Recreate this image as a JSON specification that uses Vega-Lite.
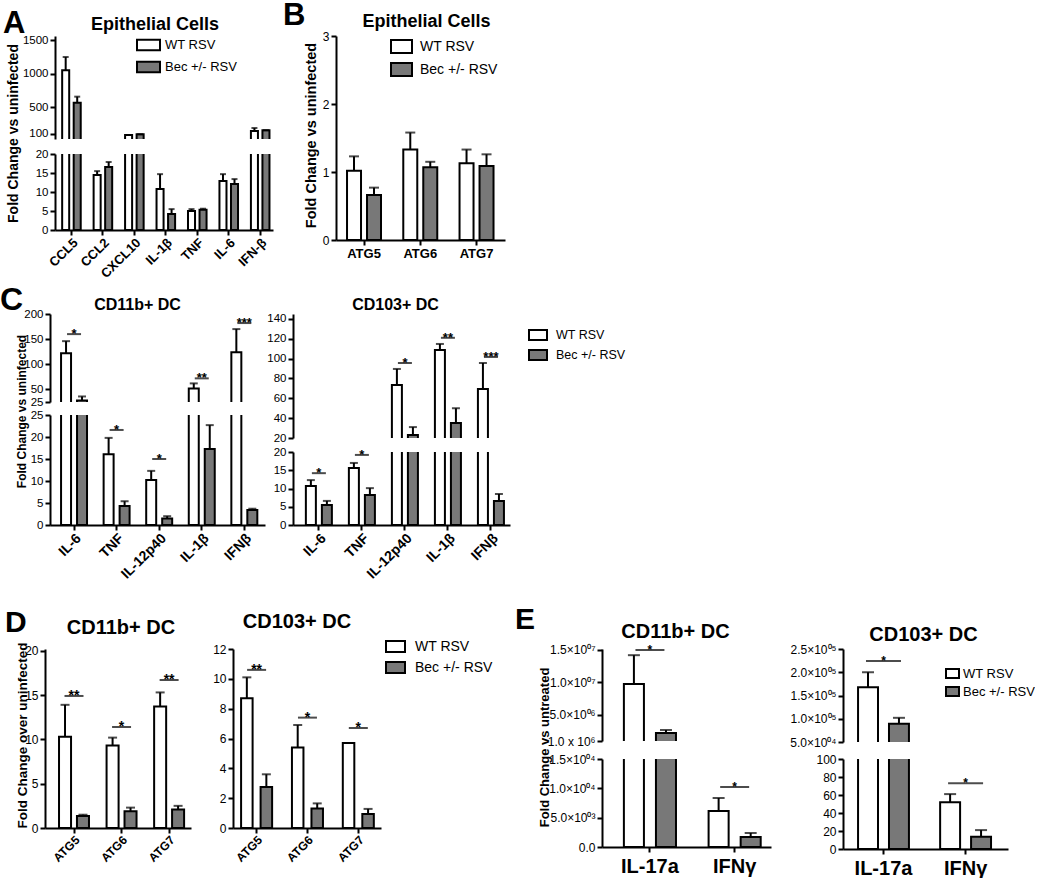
{
"$schema": "https://vega.github.io/schema/vega-lite/v6.json",
"background": "white",
"padding": 0,
"spacing": 0,
"bounds": "flush",
"resolve": {"scale": {"x": "independent", "y": "independent", "fill": "independent", "xOffset": "independent"}, "axis": {"x": "independent", "y": "independent"}, "legend": {"fill": "independent"}},
"config": {
  "font": "Liberation Sans",
  "view": {"stroke": null},
  "axis": {"domainColor": "#000", "domainWidth": 2, "tickColor": "#000", "tickWidth": 2, "tickSize": 5, "labelColor": "#000", "labelFont": "Liberation Sans", "labelFontSize": 12, "labelPadding": 2, "grid": false, "titleColor": "#000", "titleFont": "Liberation Sans", "titleFontWeight": "bold", "labelOverlap": false, "labelFlush": false},
  "title": {"font": "Liberation Sans", "fontWeight": "bold", "color": "#000"},
  "legend": {"orient": "none", "direction": "vertical", "symbolStrokeColor": "#000", "symbolStrokeWidth": 2, "labelFont": "Liberation Sans", "labelColor": "#000", "padding": 0}
},
"datasets": {
  "A": [
    {"gene":"CCL5","grp":"WT RSV","mean":1049,"hi":1247},
    {"gene":"CCL5","grp":"Bec +/- RSV","mean":566,"hi":656},
    {"gene":"CCL2","grp":"WT RSV","mean":14.5,"hi":15.5},
    {"gene":"CCL2","grp":"Bec +/- RSV","mean":16.6,"hi":17.9},
    {"gene":"CXCL10","grp":"WT RSV","mean":85,"hi":85},
    {"gene":"CXCL10","grp":"Bec +/- RSV","mean":95,"hi":95},
    {"gene":"IL-1β","grp":"WT RSV","mean":10.8,"hi":14.7},
    {"gene":"IL-1β","grp":"Bec +/- RSV","mean":4.2,"hi":5.5},
    {"gene":"TNF","grp":"WT RSV","mean":5.0,"hi":5.5},
    {"gene":"TNF","grp":"Bec +/- RSV","mean":5.3,"hi":5.6},
    {"gene":"IL-6","grp":"WT RSV","mean":12.9,"hi":14.7},
    {"gene":"IL-6","grp":"Bec +/- RSV","mean":12.1,"hi":13.4},
    {"gene":"IFN-β","grp":"WT RSV","mean":145,"hi":189},
    {"gene":"IFN-β","grp":"Bec +/- RSV","mean":155,"hi":155}
  ],
  "B": [
    {"gene":"ATG5","grp":"WT RSV","mean":1.02,"hi":1.23},
    {"gene":"ATG5","grp":"Bec +/- RSV","mean":0.66,"hi":0.77},
    {"gene":"ATG6","grp":"WT RSV","mean":1.33,"hi":1.58},
    {"gene":"ATG6","grp":"Bec +/- RSV","mean":1.07,"hi":1.15},
    {"gene":"ATG7","grp":"WT RSV","mean":1.13,"hi":1.33},
    {"gene":"ATG7","grp":"Bec +/- RSV","mean":1.09,"hi":1.26}
  ],
  "C1": [
    {"gene":"IL-6","grp":"WT RSV","mean":122,"hi":146},
    {"gene":"IL-6","grp":"Bec +/- RSV","mean":28,"hi":36},
    {"gene":"TNF","grp":"WT RSV","mean":16.1,"hi":19.8},
    {"gene":"TNF","grp":"Bec +/- RSV","mean":4.3,"hi":5.4},
    {"gene":"IL-12p40","grp":"WT RSV","mean":10.2,"hi":12.3},
    {"gene":"IL-12p40","grp":"Bec +/- RSV","mean":1.5,"hi":2.0},
    {"gene":"IL-1β","grp":"WT RSV","mean":52,"hi":62},
    {"gene":"IL-1β","grp":"Bec +/- RSV","mean":17.3,"hi":22.7},
    {"gene":"IFNβ","grp":"WT RSV","mean":124,"hi":170},
    {"gene":"IFNβ","grp":"Bec +/- RSV","mean":3.4,"hi":3.7}
  ],
  "C1s": [
    {"gene":"IL-6","s":160,"t":"*","part":"up"},
    {"gene":"TNF","s":21.6,"t":"*","part":"low"},
    {"gene":"IL-12p40","s":15,"t":"*","part":"low"},
    {"gene":"IL-1β","s":72,"t":"**","part":"up"},
    {"gene":"IFNβ","s":182,"t":"***","part":"up"}
  ],
  "C2": [
    {"gene":"IL-6","grp":"WT RSV","mean":10.7,"hi":12.3},
    {"gene":"IL-6","grp":"Bec +/- RSV","mean":5.5,"hi":6.6},
    {"gene":"TNF","grp":"WT RSV","mean":15.6,"hi":17},
    {"gene":"TNF","grp":"Bec +/- RSV","mean":8.2,"hi":10.1},
    {"gene":"IL-12p40","grp":"WT RSV","mean":73.5,"hi":89.6},
    {"gene":"IL-12p40","grp":"Bec +/- RSV","mean":23,"hi":31},
    {"gene":"IL-1β","grp":"WT RSV","mean":108.7,"hi":114.8},
    {"gene":"IL-1β","grp":"Bec +/- RSV","mean":35,"hi":50},
    {"gene":"IFNβ","grp":"WT RSV","mean":69.4,"hi":95.6},
    {"gene":"IFNβ","grp":"Bec +/- RSV","mean":6.6,"hi":8.5}
  ],
  "C2s": [
    {"gene":"IL-6","s":14.2,"t":"*","part":"low"},
    {"gene":"TNF","s":19.2,"t":"*","part":"low"},
    {"gene":"IL-12p40","s":95.6,"t":"*","part":"up"},
    {"gene":"IL-1β","s":121,"t":"**","part":"up"},
    {"gene":"IFNβ","s":101.7,"t":"***","part":"up"}
  ],
  "D1": [
    {"gene":"ATG5","grp":"WT RSV","mean":10.3,"hi":13.9},
    {"gene":"ATG5","grp":"Bec +/- RSV","mean":1.36,"hi":1.5},
    {"gene":"ATG6","grp":"WT RSV","mean":9.3,"hi":10.2},
    {"gene":"ATG6","grp":"Bec +/- RSV","mean":1.9,"hi":2.3},
    {"gene":"ATG7","grp":"WT RSV","mean":13.7,"hi":15.3},
    {"gene":"ATG7","grp":"Bec +/- RSV","mean":2.1,"hi":2.5}
  ],
  "D1s": [
    {"gene":"ATG5","s":14.9,"t":"**"},
    {"gene":"ATG6","s":11.4,"t":"*"},
    {"gene":"ATG7","s":16.7,"t":"**"}
  ],
  "D2": [
    {"gene":"ATG5","grp":"WT RSV","mean":8.7,"hi":10.1},
    {"gene":"ATG5","grp":"Bec +/- RSV","mean":2.75,"hi":3.6},
    {"gene":"ATG6","grp":"WT RSV","mean":5.4,"hi":6.9},
    {"gene":"ATG6","grp":"Bec +/- RSV","mean":1.3,"hi":1.65},
    {"gene":"ATG7","grp":"WT RSV","mean":5.7,"hi":5.7},
    {"gene":"ATG7","grp":"Bec +/- RSV","mean":0.94,"hi":1.28}
  ],
  "D2s": [
    {"gene":"ATG5","s":10.6,"t":"**"},
    {"gene":"ATG6","s":7.4,"t":"*"},
    {"gene":"ATG7","s":6.7,"t":"*"}
  ],
  "E1": [
    {"gene":"IL-17a","grp":"WT RSV","mean":9770000,"hi":14200000},
    {"gene":"IL-17a","grp":"Bec +/- RSV","mean":2230000,"hi":2690000},
    {"gene":"IFNγ","grp":"WT RSV","mean":6140,"hi":8350},
    {"gene":"IFNγ","grp":"Bec +/- RSV","mean":1700,"hi":2390}
  ],
  "E1s": [
    {"gene":"IL-17a","s":15000000,"t":"*","part":"up"},
    {"gene":"IFNγ","s":10230,"t":"*","part":"low"}
  ],
  "E2": [
    {"gene":"IL-17a","grp":"WT RSV","mean":168000,"hi":200000},
    {"gene":"IL-17a","grp":"Bec +/- RSV","mean":89000,"hi":102000},
    {"gene":"IFNγ","grp":"WT RSV","mean":52,"hi":61},
    {"gene":"IFNγ","grp":"Bec +/- RSV","mean":13.5,"hi":21}
  ],
  "E2s": [
    {"gene":"IL-17a","s":224000,"t":"*","part":"up"},
    {"gene":"IFNγ","s":73,"t":"*","part":"low"}
  ]
},
"vconcat": [
  {
    "spacing": 0, "bounds": "flush",
    "resolve": {"scale": {"x": "independent", "y": "independent", "fill": "independent", "xOffset": "independent"}, "axis": {"x": "independent", "y": "independent"}, "legend": {"fill": "independent"}},
    "hconcat": [
      {"width": 10, "height": 1, "data": {"values": []}, "mark": "point", "encoding": {}},
      {
        "title": {"text": "A", "fontSize": 31, "anchor": "start", "frame": "group", "dx": -52, "dy": 24, "offset": 0},
        "spacing": 15, "bounds": "flush",
        "resolve": {"scale": {"x": "independent", "y": "independent", "fill": "independent", "xOffset": "independent"}, "axis": {"x": "independent", "y": "independent"}, "legend": {"fill": "independent"}},
        "vconcat": [
          {
            "width": 218, "height": 103, "data": {"name": "A"},
            "transform": [{"filter": "datum.mean > 25"}],
            "title": {"text": "Epithelial Cells", "fontSize": 18, "offset": -1, "dx": -9},
            "encoding": {
              "x": {"field": "gene", "type": "nominal", "scale": {"domain": ["CCL5","CCL2","CXCL10","IL-1β","TNF","IL-6","IFN-β"], "paddingInner": 0.41, "paddingOuter": 0.17, "align": 0.67}, "axis": null},
              "y": {"field": "mean", "type": "quantitative", "scale": {"domain": [25, 1560], "nice": false, "zero": false}, "axis": {"title": null, "values": [100, 500, 1000, 1500], "format": "d", "labelFontSize": 11.5}}
            },
            "layer": [
              {"mark": {"type": "bar", "stroke": "#000", "strokeWidth": 2, "clip": true},
               "encoding": {"xOffset": {"field": "grp", "type": "nominal", "scale": {"domain": ["WT RSV", "Bec +/- RSV"], "paddingInner": 0.39, "paddingOuter": 0}}, "y2": {"datum": 0},
                 "fill": {"field": "grp", "type": "nominal", "scale": {"domain": ["WT RSV", "Bec +/- RSV"], "range": ["#ffffff", "#787878"]},
                   "legend": {"title": null, "legendX": 81, "legendY": -3.5, "symbolType": "M-1,-0.45H1V0.45H-1Z", "symbolSize": 529, "labelFontSize": 13, "labelOffset": 4, "rowPadding": -4}}}},
              {"mark": {"type": "rule", "color": "#000", "strokeWidth": 2, "clip": true},
               "encoding": {"xOffset": {"field": "grp", "type": "nominal", "scale": {"domain": ["WT RSV", "Bec +/- RSV"], "paddingInner": 0.39, "paddingOuter": 0}}, "y2": {"field": "hi"}}},
              {"mark": {"type": "tick", "color": "#000", "thickness": 2, "size": 6, "clip": true},
               "encoding": {"xOffset": {"field": "grp", "type": "nominal", "scale": {"domain": ["WT RSV", "Bec +/- RSV"], "paddingInner": 0.39, "paddingOuter": 0}}, "y": {"field": "hi", "type": "quantitative"}}}
            ]
          },
          {
            "width": 218, "height": 76, "data": {"name": "A"},
            "encoding": {
              "x": {"field": "gene", "type": "nominal", "scale": {"domain": ["CCL5","CCL2","CXCL10","IL-1β","TNF","IL-6","IFN-β"], "paddingInner": 0.41, "paddingOuter": 0.17, "align": 0.67}, "axis": {"title": null, "labelAngle": -45, "labelAlign": "right", "labelBaseline": "top", "labelFontSize": 13, "labelFontWeight": "bold", "labelPadding": 1}},
              "y": {"field": "mean", "type": "quantitative", "scale": {"domain": [0, 20], "nice": false, "zero": false}, "axis": {"values": [0, 5, 10, 15, 20], "labelFontSize": 11.5, "title": "Fold Change vs uninfected", "titleFontSize": 14, "titleAngle": -90, "titleBaseline": "bottom", "titleAlign": "center", "titleX": -35, "titleY": -21}}
            },
            "layer": [
              {"mark": {"type": "bar", "stroke": "#000", "strokeWidth": 2, "clip": true},
               "encoding": {"xOffset": {"field": "grp", "type": "nominal", "scale": {"domain": ["WT RSV", "Bec +/- RSV"], "paddingInner": 0.39, "paddingOuter": 0}}, "y2": {"datum": 0},
                 "fill": {"field": "grp", "type": "nominal", "scale": {"domain": ["WT RSV", "Bec +/- RSV"], "range": ["#ffffff", "#787878"]}, "legend": null}}},
              {"mark": {"type": "rule", "color": "#000", "strokeWidth": 2, "clip": true},
               "encoding": {"xOffset": {"field": "grp", "type": "nominal", "scale": {"domain": ["WT RSV", "Bec +/- RSV"], "paddingInner": 0.39, "paddingOuter": 0}}, "y2": {"field": "hi"}}},
              {"mark": {"type": "tick", "color": "#000", "thickness": 2, "size": 6, "clip": true},
               "encoding": {"xOffset": {"field": "grp", "type": "nominal", "scale": {"domain": ["WT RSV", "Bec +/- RSV"], "paddingInner": 0.39, "paddingOuter": 0}}, "y": {"field": "hi", "type": "quantitative"}}}
            ]
          }
        ]
      },
      {"width": 281, "height": 1, "data": {"values": []}, "mark": "point", "encoding": {}},
      {
        "title": {"text": "B", "fontSize": 31, "anchor": "start", "frame": "group", "dx": -53, "dy": 19, "offset": 0},
        "bounds": "flush",
        "resolve": {"scale": {"x": "independent", "y": "independent", "fill": "independent", "xOffset": "independent"}, "axis": {"x": "independent", "y": "independent"}, "legend": {"fill": "independent"}},
        "vconcat": [
          {
            "width": 169, "height": 204, "data": {"name": "B"},
            "title": {"text": "Epithelial Cells", "fontSize": 18, "offset": -1, "dx": 6},
            "encoding": {
              "x": {"field": "gene", "type": "nominal", "scale": {"domain": ["ATG5","ATG6","ATG7"], "paddingInner": 0.396, "paddingOuter": 0.2, "align": 0.49}, "axis": {"title": null, "labelAngle": 0, "labelFontSize": 13, "labelFontWeight": "bold", "labelBaseline": "top", "labelPadding": 2}},
              "y": {"field": "mean", "type": "quantitative", "scale": {"domain": [0, 3], "nice": false}, "axis": {"values": [0, 1, 2, 3], "labelFontSize": 12, "title": "Fold Change vs uninfected", "titleFontSize": 14.5, "titleAngle": -90, "titleBaseline": "bottom", "titleAlign": "center", "titleX": -18, "titleY": 99}}
            },
            "layer": [
              {"mark": {"type": "bar", "stroke": "#000", "strokeWidth": 2, "clip": true},
               "encoding": {"xOffset": {"field": "grp", "type": "nominal", "scale": {"domain": ["WT RSV", "Bec +/- RSV"], "paddingInner": 0.3, "paddingOuter": 0}}, "y2": {"datum": 0},
                 "fill": {"field": "grp", "type": "nominal", "scale": {"domain": ["WT RSV", "Bec +/- RSV"], "range": ["#ffffff", "#787878"]},
                   "legend": {"title": null, "legendX": 54, "legendY": -1, "symbolType": "M-1,-0.62H1V0.62H-1Z", "symbolSize": 441, "labelFontSize": 14, "labelOffset": 7, "rowPadding": 0}}}},
              {"mark": {"type": "rule", "color": "#000", "strokeWidth": 2, "clip": true},
               "encoding": {"xOffset": {"field": "grp", "type": "nominal", "scale": {"domain": ["WT RSV", "Bec +/- RSV"], "paddingInner": 0.3, "paddingOuter": 0}}, "y2": {"field": "hi"}}},
              {"mark": {"type": "tick", "color": "#000", "thickness": 2, "size": 10, "clip": true},
               "encoding": {"xOffset": {"field": "grp", "type": "nominal", "scale": {"domain": ["WT RSV", "Bec +/- RSV"], "paddingInner": 0.3, "paddingOuter": 0}}, "y": {"field": "hi", "type": "quantitative"}}}
            ]
          }
        ]
      }
    ]
  },
  {"width": 1, "height": 278, "data": {"values": []}, "mark": "point", "encoding": {}},
  {
    "spacing": 0, "bounds": "flush",
    "resolve": {"scale": {"x": "independent", "y": "independent", "fill": "independent", "xOffset": "independent"}, "axis": {"x": "independent", "y": "independent"}, "legend": {"fill": "independent"}},
    "hconcat": [
      {"width": 5, "height": 1, "data": {"values": []}, "mark": "point", "encoding": {}},
      {
        "title": {"text": "C", "fontSize": 32, "anchor": "start", "frame": "group", "dx": -50, "dy": 20, "offset": 0},
        "spacing": 13, "bounds": "flush",
        "resolve": {"scale": {"x": "independent", "y": "independent", "fill": "independent", "xOffset": "independent"}, "axis": {"x": "independent", "y": "independent"}, "legend": {"fill": "independent"}},
        "vconcat": [
          {
            "width": 215, "height": 88, "data": {"name": "C1"},
            "title": {"text": "CD11b+ DC", "fontSize": 16, "offset": -5, "dx": -20},
            "encoding": {
              "x": {"field": "gene", "type": "nominal", "scale": {"domain": ["IL-6","TNF","IL-12p40","IL-1β","IFNβ"], "paddingInner": 0.39, "paddingOuter": 0.22, "align": 0.59}, "axis": null},
              "y": {"field": "mean", "type": "quantitative", "scale": {"domain": [25, 200], "nice": false, "zero": false}, "axis": {"title": null, "values": [25, 50, 100, 150, 200], "labelFontSize": 11.5}}
            },
            "layer": [
              {"mark": {"type": "bar", "stroke": "#000", "strokeWidth": 2, "clip": true},
               "encoding": {"xOffset": {"field": "grp", "type": "nominal", "scale": {"domain": ["WT RSV", "Bec +/- RSV"], "paddingInner": 0.375, "paddingOuter": 0}}, "y2": {"datum": 0},
                 "fill": {"field": "grp", "type": "nominal", "scale": {"domain": ["WT RSV", "Bec +/- RSV"], "range": ["#ffffff", "#787878"]}, "legend": null}}},
              {"mark": {"type": "rule", "color": "#000", "strokeWidth": 2, "clip": true},
               "encoding": {"xOffset": {"field": "grp", "type": "nominal", "scale": {"domain": ["WT RSV", "Bec +/- RSV"], "paddingInner": 0.375, "paddingOuter": 0}}, "y2": {"field": "hi"}}},
              {"mark": {"type": "tick", "color": "#000", "thickness": 2, "size": 8, "clip": true},
               "encoding": {"xOffset": {"field": "grp", "type": "nominal", "scale": {"domain": ["WT RSV", "Bec +/- RSV"], "paddingInner": 0.375, "paddingOuter": 0}}, "y": {"field": "hi", "type": "quantitative"}}},
              {"data": {"name": "C1s"}, "transform": [{"filter": "datum.part == 'up'"}],
               "mark": {"type": "tick", "color": "#000", "thickness": 2, "size": 14},
               "encoding": {"y": {"field": "s", "type": "quantitative"}}},
              {"data": {"name": "C1s"}, "transform": [{"filter": "datum.part == 'up'"}],
               "mark": {"type": "text", "fontSize": 13, "fontWeight": "bold", "baseline": "alphabetic", "dy": 4, "color": "#000"},
               "encoding": {"y": {"field": "s", "type": "quantitative"}, "text": {"field": "t"}}}
            ]
          },
          {
            "width": 215, "height": 110, "data": {"name": "C1"},
            "encoding": {
              "x": {"field": "gene", "type": "nominal", "scale": {"domain": ["IL-6","TNF","IL-12p40","IL-1β","IFNβ"], "paddingInner": 0.39, "paddingOuter": 0.22, "align": 0.59}, "axis": {"title": null, "labelAngle": -45, "labelAlign": "right", "labelBaseline": "top", "labelFontSize": 14, "labelFontWeight": "bold", "labelPadding": 1}},
              "y": {"field": "mean", "type": "quantitative", "scale": {"domain": [0, 25], "nice": false, "zero": false}, "axis": {"values": [0, 5, 10, 15, 20, 25], "labelFontSize": 11.5, "title": "Fold Change vs uninfected", "titleFontSize": 12, "titleAngle": -90, "titleBaseline": "bottom", "titleAlign": "center", "titleX": -22, "titleY": -4}}
            },
            "layer": [
              {"mark": {"type": "bar", "stroke": "#000", "strokeWidth": 2, "clip": true},
               "encoding": {"xOffset": {"field": "grp", "type": "nominal", "scale": {"domain": ["WT RSV", "Bec +/- RSV"], "paddingInner": 0.375, "paddingOuter": 0}}, "y2": {"datum": 0},
                 "fill": {"field": "grp", "type": "nominal", "scale": {"domain": ["WT RSV", "Bec +/- RSV"], "range": ["#ffffff", "#787878"]}, "legend": null}}},
              {"mark": {"type": "rule", "color": "#000", "strokeWidth": 2, "clip": true},
               "encoding": {"xOffset": {"field": "grp", "type": "nominal", "scale": {"domain": ["WT RSV", "Bec +/- RSV"], "paddingInner": 0.375, "paddingOuter": 0}}, "y2": {"field": "hi"}}},
              {"mark": {"type": "tick", "color": "#000", "thickness": 2, "size": 8, "clip": true},
               "encoding": {"xOffset": {"field": "grp", "type": "nominal", "scale": {"domain": ["WT RSV", "Bec +/- RSV"], "paddingInner": 0.375, "paddingOuter": 0}}, "y": {"field": "hi", "type": "quantitative"}}},
              {"data": {"name": "C1s"}, "transform": [{"filter": "datum.part == 'low'"}],
               "mark": {"type": "tick", "color": "#000", "thickness": 2, "size": 14},
               "encoding": {"y": {"field": "s", "type": "quantitative"}}},
              {"data": {"name": "C1s"}, "transform": [{"filter": "datum.part == 'low'"}],
               "mark": {"type": "text", "fontSize": 13, "fontWeight": "bold", "baseline": "alphabetic", "dy": 4, "color": "#000"},
               "encoding": {"y": {"field": "s", "type": "quantitative"}, "text": {"field": "t"}}}
            ]
          }
        ]
      },
      {"width": 243, "height": 1, "data": {"values": []}, "mark": "point", "encoding": {}},
      {
        "spacing": 14, "bounds": "flush",
        "resolve": {"scale": {"x": "independent", "y": "independent", "fill": "independent", "xOffset": "independent"}, "axis": {"x": "independent", "y": "independent"}, "legend": {"fill": "independent"}},
        "vconcat": [
          {
            "width": 217, "height": 124, "data": {"name": "C2"},
            "title": {"text": "CD103+ DC", "fontSize": 16, "offset": 0, "dx": -6},
            "encoding": {
              "x": {"field": "gene", "type": "nominal", "scale": {"domain": ["IL-6","TNF","IL-12p40","IL-1β","IFNβ"], "paddingInner": 0.395, "paddingOuter": 0.22, "align": 0.68}, "axis": null},
              "y": {"field": "mean", "type": "quantitative", "scale": {"domain": [20, 145], "nice": false, "zero": false}, "axis": {"title": null, "values": [20, 40, 60, 80, 100, 120, 140], "labelFontSize": 11.5}}
            },
            "layer": [
              {"mark": {"type": "bar", "stroke": "#000", "strokeWidth": 2, "clip": true},
               "encoding": {"xOffset": {"field": "grp", "type": "nominal", "scale": {"domain": ["WT RSV", "Bec +/- RSV"], "paddingInner": 0.375, "paddingOuter": 0}}, "y2": {"datum": 0},
                 "fill": {"field": "grp", "type": "nominal", "scale": {"domain": ["WT RSV", "Bec +/- RSV"], "range": ["#ffffff", "#787878"]},
                   "legend": {"title": null, "legendX": 235, "legendY": 11, "symbolType": "M-1,-0.556H1V0.556H-1Z", "symbolSize": 324, "labelFontSize": 12.5, "labelOffset": 8, "rowPadding": -1}}}},
              {"mark": {"type": "rule", "color": "#000", "strokeWidth": 2, "clip": true},
               "encoding": {"xOffset": {"field": "grp", "type": "nominal", "scale": {"domain": ["WT RSV", "Bec +/- RSV"], "paddingInner": 0.375, "paddingOuter": 0}}, "y2": {"field": "hi"}}},
              {"mark": {"type": "tick", "color": "#000", "thickness": 2, "size": 8, "clip": true},
               "encoding": {"xOffset": {"field": "grp", "type": "nominal", "scale": {"domain": ["WT RSV", "Bec +/- RSV"], "paddingInner": 0.375, "paddingOuter": 0}}, "y": {"field": "hi", "type": "quantitative"}}},
              {"data": {"name": "C2s"}, "transform": [{"filter": "datum.part == 'up'"}],
               "mark": {"type": "tick", "color": "#000", "thickness": 2, "size": 14},
               "encoding": {"y": {"field": "s", "type": "quantitative"}}},
              {"data": {"name": "C2s"}, "transform": [{"filter": "datum.part == 'up'"}],
               "mark": {"type": "text", "fontSize": 13, "fontWeight": "bold", "baseline": "alphabetic", "dy": 4, "color": "#000"},
               "encoding": {"y": {"field": "s", "type": "quantitative"}, "text": {"field": "t"}}}
            ]
          },
          {
            "width": 217, "height": 73, "data": {"name": "C2"},
            "encoding": {
              "x": {"field": "gene", "type": "nominal", "scale": {"domain": ["IL-6","TNF","IL-12p40","IL-1β","IFNβ"], "paddingInner": 0.395, "paddingOuter": 0.22, "align": 0.68}, "axis": {"title": null, "labelAngle": -45, "labelAlign": "right", "labelBaseline": "top", "labelFontSize": 14, "labelFontWeight": "bold", "labelPadding": 1}},
              "y": {"field": "mean", "type": "quantitative", "scale": {"domain": [0, 20], "nice": false, "zero": false}, "axis": {"title": null, "values": [0, 5, 10, 15, 20], "labelFontSize": 11.5}}
            },
            "layer": [
              {"mark": {"type": "bar", "stroke": "#000", "strokeWidth": 2, "clip": true},
               "encoding": {"xOffset": {"field": "grp", "type": "nominal", "scale": {"domain": ["WT RSV", "Bec +/- RSV"], "paddingInner": 0.375, "paddingOuter": 0}}, "y2": {"datum": 0},
                 "fill": {"field": "grp", "type": "nominal", "scale": {"domain": ["WT RSV", "Bec +/- RSV"], "range": ["#ffffff", "#787878"]}, "legend": null}}},
              {"mark": {"type": "rule", "color": "#000", "strokeWidth": 2, "clip": true},
               "encoding": {"xOffset": {"field": "grp", "type": "nominal", "scale": {"domain": ["WT RSV", "Bec +/- RSV"], "paddingInner": 0.375, "paddingOuter": 0}}, "y2": {"field": "hi"}}},
              {"mark": {"type": "tick", "color": "#000", "thickness": 2, "size": 8, "clip": true},
               "encoding": {"xOffset": {"field": "grp", "type": "nominal", "scale": {"domain": ["WT RSV", "Bec +/- RSV"], "paddingInner": 0.375, "paddingOuter": 0}}, "y": {"field": "hi", "type": "quantitative"}}},
              {"data": {"name": "C2s"}, "transform": [{"filter": "datum.part == 'low'"}],
               "mark": {"type": "tick", "color": "#000", "thickness": 2, "size": 14},
               "encoding": {"y": {"field": "s", "type": "quantitative"}}},
              {"data": {"name": "C2s"}, "transform": [{"filter": "datum.part == 'low'"}],
               "mark": {"type": "text", "fontSize": 13, "fontWeight": "bold", "baseline": "alphabetic", "dy": 4, "color": "#000"},
               "encoding": {"y": {"field": "s", "type": "quantitative"}, "text": {"field": "t"}}}
            ]
          }
        ]
      }
    ]
  },
  {"width": 1, "height": 335, "data": {"values": []}, "mark": "point", "encoding": {}},
  {
    "spacing": 0, "bounds": "flush",
    "resolve": {"scale": {"x": "independent", "y": "independent", "fill": "independent", "xOffset": "independent"}, "axis": {"x": "independent", "y": "independent"}, "legend": {"fill": "independent"}},
    "hconcat": [
      {
        "title": {"text": "D", "fontSize": 30, "anchor": "start", "frame": "group", "dx": -40, "dy": 20, "offset": 0},
        "bounds": "flush",
        "resolve": {"scale": {"x": "independent", "y": "independent", "fill": "independent", "xOffset": "independent"}, "axis": {"x": "independent", "y": "independent"}, "legend": {"fill": "independent"}},
        "vconcat": [
          {
            "width": 146, "height": 179, "data": {"name": "D1"},
            "title": {"text": "CD11b+ DC", "fontSize": 20, "offset": 4, "dx": 3},
            "encoding": {
              "x": {"field": "gene", "type": "nominal", "scale": {"domain": ["ATG5","ATG6","ATG7"], "paddingInner": 0.37, "paddingOuter": 0.22, "align": 0.67}, "axis": {"title": null, "labelAngle": -45, "labelAlign": "right", "labelBaseline": "top", "labelFontSize": 12, "labelFontWeight": "bold", "labelPadding": 1}},
              "y": {"field": "mean", "type": "quantitative", "scale": {"domain": [0, 20.2], "nice": false, "zero": false}, "axis": {"values": [0, 5, 10, 15, 20], "labelFontSize": 12, "title": "Fold Change over uninfected", "titleFontSize": 13.5, "titleAngle": -90, "titleBaseline": "bottom", "titleAlign": "center", "titleX": -16, "titleY": 86}}
            },
            "layer": [
              {"mark": {"type": "bar", "stroke": "#000", "strokeWidth": 2, "clip": true},
               "encoding": {"xOffset": {"field": "grp", "type": "nominal", "scale": {"domain": ["WT RSV", "Bec +/- RSV"], "paddingInner": 0.33, "paddingOuter": 0}}, "y2": {"datum": 0},
                 "fill": {"field": "grp", "type": "nominal", "scale": {"domain": ["WT RSV", "Bec +/- RSV"], "range": ["#ffffff", "#787878"]}, "legend": null}}},
              {"mark": {"type": "rule", "color": "#000", "strokeWidth": 2, "clip": true},
               "encoding": {"xOffset": {"field": "grp", "type": "nominal", "scale": {"domain": ["WT RSV", "Bec +/- RSV"], "paddingInner": 0.33, "paddingOuter": 0}}, "y2": {"field": "hi"}}},
              {"mark": {"type": "tick", "color": "#000", "thickness": 2, "size": 9, "clip": true},
               "encoding": {"xOffset": {"field": "grp", "type": "nominal", "scale": {"domain": ["WT RSV", "Bec +/- RSV"], "paddingInner": 0.33, "paddingOuter": 0}}, "y": {"field": "hi", "type": "quantitative"}}},
              {"data": {"name": "D1s"},
               "mark": {"type": "tick", "color": "#000", "thickness": 2, "size": 19},
               "encoding": {"y": {"field": "s", "type": "quantitative"}}},
              {"data": {"name": "D1s"},
               "mark": {"type": "text", "fontSize": 14, "fontWeight": "bold", "baseline": "alphabetic", "dy": 4, "color": "#000"},
               "encoding": {"y": {"field": "s", "type": "quantitative"}, "text": {"field": "t"}}}
            ]
          }
        ]
      },
      {"width": 188, "height": 1, "data": {"values": []}, "mark": "point", "encoding": {}},
      {
        "bounds": "flush",
        "resolve": {"scale": {"x": "independent", "y": "independent", "fill": "independent", "xOffset": "independent"}, "axis": {"x": "independent", "y": "independent"}, "legend": {"fill": "independent"}},
        "vconcat": [
          {
            "width": 148, "height": 179, "data": {"name": "D2"},
            "title": {"text": "CD103+ DC", "fontSize": 20, "offset": 4, "dx": -10},
            "encoding": {
              "x": {"field": "gene", "type": "nominal", "scale": {"domain": ["ATG5","ATG6","ATG7"], "paddingInner": 0.39, "paddingOuter": 0.15, "align": 0.53}, "axis": {"title": null, "labelAngle": -45, "labelAlign": "right", "labelBaseline": "top", "labelFontSize": 12, "labelFontWeight": "bold", "labelPadding": 1}},
              "y": {"field": "mean", "type": "quantitative", "scale": {"domain": [0, 12], "nice": false, "zero": false}, "axis": {"title": null, "values": [0, 2, 4, 6, 8, 10, 12], "labelFontSize": 12}}
            },
            "layer": [
              {"mark": {"type": "bar", "stroke": "#000", "strokeWidth": 2, "clip": true},
               "encoding": {"xOffset": {"field": "grp", "type": "nominal", "scale": {"domain": ["WT RSV", "Bec +/- RSV"], "paddingInner": 0.41, "paddingOuter": 0}}, "y2": {"datum": 0},
                 "fill": {"field": "grp", "type": "nominal", "scale": {"domain": ["WT RSV", "Bec +/- RSV"], "range": ["#ffffff", "#787878"]},
                   "legend": {"title": null, "legendX": 152, "legendY": -13, "symbolType": "M-1,-0.58H1V0.58H-1Z", "symbolSize": 361, "labelFontSize": 14, "labelOffset": 9, "rowPadding": 0}}}},
              {"mark": {"type": "rule", "color": "#000", "strokeWidth": 2, "clip": true},
               "encoding": {"xOffset": {"field": "grp", "type": "nominal", "scale": {"domain": ["WT RSV", "Bec +/- RSV"], "paddingInner": 0.41, "paddingOuter": 0}}, "y2": {"field": "hi"}}},
              {"mark": {"type": "tick", "color": "#000", "thickness": 2, "size": 9, "clip": true},
               "encoding": {"xOffset": {"field": "grp", "type": "nominal", "scale": {"domain": ["WT RSV", "Bec +/- RSV"], "paddingInner": 0.41, "paddingOuter": 0}}, "y": {"field": "hi", "type": "quantitative"}}},
              {"data": {"name": "D2s"},
               "mark": {"type": "tick", "color": "#000", "thickness": 2, "size": 19},
               "encoding": {"y": {"field": "s", "type": "quantitative"}}},
              {"data": {"name": "D2s"},
               "mark": {"type": "text", "fontSize": 14, "fontWeight": "bold", "baseline": "alphabetic", "dy": 4, "color": "#000"},
               "encoding": {"y": {"field": "s", "type": "quantitative"}, "text": {"field": "t"}}}
            ]
          }
        ]
      },
      {"width": 369, "height": 1, "data": {"values": []}, "mark": "point", "encoding": {}},
      {
        "title": {"text": "E", "fontSize": 30, "anchor": "start", "frame": "group", "dx": -87, "dy": 13, "offset": 0},
        "spacing": 18, "bounds": "flush",
        "resolve": {"scale": {"x": "independent", "y": "independent", "fill": "independent", "xOffset": "independent"}, "axis": {"x": "independent", "y": "independent"}, "legend": {"fill": "independent"}},
        "vconcat": [
          {
            "width": 169, "height": 92, "data": {"name": "E1"},
            "title": {"text": "CD11b+ DC", "fontSize": 20, "offset": 2, "dx": -11},
            "encoding": {
              "x": {"field": "gene", "type": "nominal", "scale": {"domain": ["IL-17a","IFNγ"], "paddingInner": 0.385, "paddingOuter": 0.19, "align": 0.68}, "axis": null},
              "y": {"field": "mean", "type": "quantitative", "scale": {"domain": [1000000, 15150000], "nice": false, "zero": false}, "axis": {"title": null, "values": [1000000, 5000000, 10000000, 15000000], "labelFontSize": 12, "labelExpr": "datum.value == 1000000 ? '1.0 x 10⁶' : datum.value == 5000000 ? '5.0×10⁰⁶' : datum.value == 10000000 ? '1.0×10⁰⁷' : '1.5×10⁰⁷'"}}
            },
            "layer": [
              {"mark": {"type": "bar", "stroke": "#000", "strokeWidth": 2, "clip": true},
               "encoding": {"xOffset": {"field": "grp", "type": "nominal", "scale": {"domain": ["WT RSV", "Bec +/- RSV"], "paddingInner": 0.375, "paddingOuter": 0}}, "y2": {"datum": 0},
                 "fill": {"field": "grp", "type": "nominal", "scale": {"domain": ["WT RSV", "Bec +/- RSV"], "range": ["#ffffff", "#787878"]}, "legend": null}}},
              {"mark": {"type": "rule", "color": "#000", "strokeWidth": 2, "clip": true},
               "encoding": {"xOffset": {"field": "grp", "type": "nominal", "scale": {"domain": ["WT RSV", "Bec +/- RSV"], "paddingInner": 0.375, "paddingOuter": 0}}, "y2": {"field": "hi"}}},
              {"mark": {"type": "tick", "color": "#000", "thickness": 2, "size": 12, "clip": true},
               "encoding": {"xOffset": {"field": "grp", "type": "nominal", "scale": {"domain": ["WT RSV", "Bec +/- RSV"], "paddingInner": 0.375, "paddingOuter": 0}}, "y": {"field": "hi", "type": "quantitative"}}},
              {"data": {"name": "E1s"}, "transform": [{"filter": "datum.part == 'up'"}],
               "mark": {"type": "tick", "color": "#000", "thickness": 2, "size": 29},
               "encoding": {"y": {"field": "s", "type": "quantitative"}}},
              {"data": {"name": "E1s"}, "transform": [{"filter": "datum.part == 'up'"}],
               "mark": {"type": "text", "fontSize": 12, "fontWeight": "bold", "baseline": "alphabetic", "dy": 4, "color": "#000"},
               "encoding": {"y": {"field": "s", "type": "quantitative"}, "text": {"field": "t"}}}
            ]
          },
          {
            "width": 169, "height": 88, "data": {"name": "E1"},
            "encoding": {
              "x": {"field": "gene", "type": "nominal", "scale": {"domain": ["IL-17a","IFNγ"], "paddingInner": 0.385, "paddingOuter": 0.19, "align": 0.68}, "axis": {"title": null, "labelAngle": 0, "labelFontSize": 20, "labelFontWeight": "bold", "labelBaseline": "top", "labelPadding": 4}},
              "y": {"field": "mean", "type": "quantitative", "scale": {"domain": [0, 15000], "nice": false, "zero": false}, "axis": {"values": [0, 5000, 10000, 15000], "labelFontSize": 12, "labelExpr": "datum.value == 0 ? '0.0' : datum.value == 5000 ? '5.0×10⁰³' : datum.value == 10000 ? '1.0×10⁰⁴' : '1.5×10⁰⁴'", "title": "Fold Change vs untreated", "titleFontSize": 13, "titleAngle": -90, "titleBaseline": "bottom", "titleAlign": "center", "titleX": -51, "titleY": -12}}
            },
            "layer": [
              {"mark": {"type": "bar", "stroke": "#000", "strokeWidth": 2, "clip": true},
               "encoding": {"xOffset": {"field": "grp", "type": "nominal", "scale": {"domain": ["WT RSV", "Bec +/- RSV"], "paddingInner": 0.375, "paddingOuter": 0}}, "y2": {"datum": 0},
                 "fill": {"field": "grp", "type": "nominal", "scale": {"domain": ["WT RSV", "Bec +/- RSV"], "range": ["#ffffff", "#787878"]}, "legend": null}}},
              {"mark": {"type": "rule", "color": "#000", "strokeWidth": 2, "clip": true},
               "encoding": {"xOffset": {"field": "grp", "type": "nominal", "scale": {"domain": ["WT RSV", "Bec +/- RSV"], "paddingInner": 0.375, "paddingOuter": 0}}, "y2": {"field": "hi"}}},
              {"mark": {"type": "tick", "color": "#000", "thickness": 2, "size": 12, "clip": true},
               "encoding": {"xOffset": {"field": "grp", "type": "nominal", "scale": {"domain": ["WT RSV", "Bec +/- RSV"], "paddingInner": 0.375, "paddingOuter": 0}}, "y": {"field": "hi", "type": "quantitative"}}},
              {"data": {"name": "E1s"}, "transform": [{"filter": "datum.part == 'low'"}],
               "mark": {"type": "tick", "color": "#000", "thickness": 2, "size": 29},
               "encoding": {"y": {"field": "s", "type": "quantitative"}}},
              {"data": {"name": "E1s"}, "transform": [{"filter": "datum.part == 'low'"}],
               "mark": {"type": "text", "fontSize": 12, "fontWeight": "bold", "baseline": "alphabetic", "dy": 4, "color": "#000"},
               "encoding": {"y": {"field": "s", "type": "quantitative"}, "text": {"field": "t"}}}
            ]
          }
        ]
      },
      {"width": 241, "height": 1, "data": {"values": []}, "mark": "point", "encoding": {}},
      {
        "spacing": 17, "bounds": "flush",
        "resolve": {"scale": {"x": "independent", "y": "independent", "fill": "independent", "xOffset": "independent"}, "axis": {"x": "independent", "y": "independent"}, "legend": {"fill": "independent"}},
        "vconcat": [
          {
            "width": 165, "height": 93, "data": {"name": "E2"},
            "title": {"text": "CD103+ DC", "fontSize": 20, "offset": -2, "dx": -2},
            "encoding": {
              "x": {"field": "gene", "type": "nominal", "scale": {"domain": ["IL-17a","IFNγ"], "paddingInner": 0.38, "paddingOuter": 0.195, "align": 0.47}, "axis": null},
              "y": {"field": "mean", "type": "quantitative", "scale": {"domain": [50000, 250000], "nice": false, "zero": false}, "axis": {"title": null, "values": [50000, 100000, 150000, 200000, 250000], "labelFontSize": 12, "labelExpr": "datum.value == 50000 ? '5.0×10⁰⁴' : datum.value == 100000 ? '1.0×10⁰⁵' : datum.value == 150000 ? '1.5×10⁰⁵' : datum.value == 200000 ? '2.0×10⁰⁵' : '2.5×10⁰⁵'"}}
            },
            "layer": [
              {"mark": {"type": "bar", "stroke": "#000", "strokeWidth": 2, "clip": true},
               "encoding": {"xOffset": {"field": "grp", "type": "nominal", "scale": {"domain": ["WT RSV", "Bec +/- RSV"], "paddingInner": 0.355, "paddingOuter": 0}}, "y2": {"datum": 0},
                 "fill": {"field": "grp", "type": "nominal", "scale": {"domain": ["WT RSV", "Bec +/- RSV"], "range": ["#ffffff", "#787878"]},
                   "legend": {"title": null, "legendX": 102, "legendY": 17, "symbolType": "M-1,-0.69H1V0.69H-1Z", "symbolSize": 169, "labelFontSize": 13, "labelOffset": 3, "rowPadding": 1}}}},
              {"mark": {"type": "rule", "color": "#000", "strokeWidth": 2, "clip": true},
               "encoding": {"xOffset": {"field": "grp", "type": "nominal", "scale": {"domain": ["WT RSV", "Bec +/- RSV"], "paddingInner": 0.355, "paddingOuter": 0}}, "y2": {"field": "hi"}}},
              {"mark": {"type": "tick", "color": "#000", "thickness": 2, "size": 12, "clip": true},
               "encoding": {"xOffset": {"field": "grp", "type": "nominal", "scale": {"domain": ["WT RSV", "Bec +/- RSV"], "paddingInner": 0.355, "paddingOuter": 0}}, "y": {"field": "hi", "type": "quantitative"}}},
              {"data": {"name": "E2s"}, "transform": [{"filter": "datum.part == 'up'"}],
               "mark": {"type": "tick", "color": "#000", "thickness": 2, "size": 35},
               "encoding": {"y": {"field": "s", "type": "quantitative"}}},
              {"data": {"name": "E2s"}, "transform": [{"filter": "datum.part == 'up'"}],
               "mark": {"type": "text", "fontSize": 12, "fontWeight": "bold", "baseline": "alphabetic", "dy": 4, "color": "#000"},
               "encoding": {"y": {"field": "s", "type": "quantitative"}, "text": {"field": "t"}}}
            ]
          },
          {
            "width": 165, "height": 90, "data": {"name": "E2"},
            "encoding": {
              "x": {"field": "gene", "type": "nominal", "scale": {"domain": ["IL-17a","IFNγ"], "paddingInner": 0.38, "paddingOuter": 0.195, "align": 0.47}, "axis": {"title": null, "labelAngle": 0, "labelFontSize": 20, "labelFontWeight": "bold", "labelBaseline": "top", "labelPadding": 4}},
              "y": {"field": "mean", "type": "quantitative", "scale": {"domain": [0, 100], "nice": false, "zero": false}, "axis": {"title": null, "values": [0, 20, 40, 60, 80, 100], "labelFontSize": 12}}
            },
            "layer": [
              {"mark": {"type": "bar", "stroke": "#000", "strokeWidth": 2, "clip": true},
               "encoding": {"xOffset": {"field": "grp", "type": "nominal", "scale": {"domain": ["WT RSV", "Bec +/- RSV"], "paddingInner": 0.355, "paddingOuter": 0}}, "y2": {"datum": 0},
                 "fill": {"field": "grp", "type": "nominal", "scale": {"domain": ["WT RSV", "Bec +/- RSV"], "range": ["#ffffff", "#787878"]}, "legend": null}}},
              {"mark": {"type": "rule", "color": "#000", "strokeWidth": 2, "clip": true},
               "encoding": {"xOffset": {"field": "grp", "type": "nominal", "scale": {"domain": ["WT RSV", "Bec +/- RSV"], "paddingInner": 0.355, "paddingOuter": 0}}, "y2": {"field": "hi"}}},
              {"mark": {"type": "tick", "color": "#000", "thickness": 2, "size": 12, "clip": true},
               "encoding": {"xOffset": {"field": "grp", "type": "nominal", "scale": {"domain": ["WT RSV", "Bec +/- RSV"], "paddingInner": 0.355, "paddingOuter": 0}}, "y": {"field": "hi", "type": "quantitative"}}},
              {"data": {"name": "E2s"}, "transform": [{"filter": "datum.part == 'low'"}],
               "mark": {"type": "tick", "color": "#000", "thickness": 2, "size": 35},
               "encoding": {"y": {"field": "s", "type": "quantitative"}}},
              {"data": {"name": "E2s"}, "transform": [{"filter": "datum.part == 'low'"}],
               "mark": {"type": "text", "fontSize": 12, "fontWeight": "bold", "baseline": "alphabetic", "dy": 4, "color": "#000"},
               "encoding": {"y": {"field": "s", "type": "quantitative"}, "text": {"field": "t"}}}
            ]
          }
        ]
      }
    ]
  }
]
}
